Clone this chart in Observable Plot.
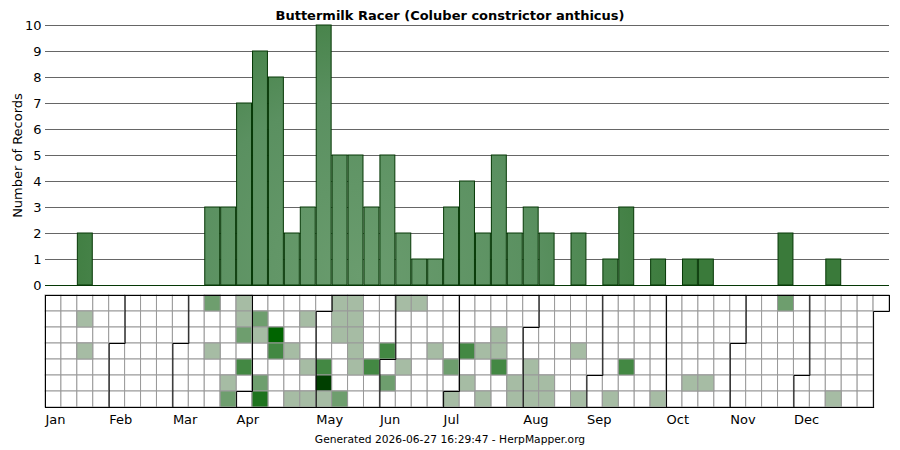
<!DOCTYPE html>
<html><head><meta charset="utf-8">
<script src="https://cdn.jsdelivr.net/npm/d3@7"></script>
<script src="https://cdn.jsdelivr.net/npm/@observablehq/plot@0.6"></script>
<style>
html,body{margin:0;padding:0;background:#fff;}
#wrap{position:relative;width:900px;height:450px;overflow:hidden;font-family:"DejaVu Sans",sans-serif;color:#000;}
#title{position:absolute;left:0;top:7.5px;width:900px;text-align:center;font-weight:bold;font-size:13px;line-height:15px;}
#footer{position:absolute;left:0;top:433px;width:900px;text-align:center;font-size:10.7px;line-height:13px;}
#bars{position:absolute;left:0;top:0;}
#cal{position:absolute;left:0;top:290px;}
</style></head><body>
<div id="wrap"><div id="title"></div><div id="bars"></div><div id="cal"></div><div id="footer"></div></div>
<script>
const titleText = "Buttermilk Racer (Coluber constrictor anthicus)";
const yLabel = "Number of Records";
const footerText = "Generated 2026-06-27 16:29:47 - HerpMapper.org";
const monthNames = ["Jan","Feb","Mar","Apr","May","Jun","Jul","Aug","Sep","Oct","Nov","Dec"];
const monthStartDays = [0,31,59,90,120,151,181,212,243,273,304,334];
const daysInYear = 365;
const yTicks = [0,1,2,3,4,5,6,7,8,9,10];
// weekly record counts (53 week columns)
const weeklyCounts = [0,0,2,0,0,0,0,0,0,0,3,3,7,9,8,2,3,10,5,5,3,5,2,1,1,3,4,2,5,2,3,2,0,2,0,1,3,0,1,0,1,1,0,0,0,0,2,0,0,1,0,0,0];
// daily cells: [week column, row within week, count]
const dayCells = [
  [2,1,1],[2,3,1],
  [10,0,2],[10,3,1],
  [11,5,1],[11,6,2],
  [12,0,1],[12,1,1],[12,2,2],[12,4,3],
  [13,1,2],[13,2,1],[13,5,2],[13,6,4],
  [14,2,5],[14,3,3],
  [15,3,1],[15,6,1],
  [16,1,1],[16,4,1],[16,6,1],
  [17,4,3],[17,5,6],[17,6,1],
  [18,0,1],[18,1,1],[18,2,1],[18,6,2],
  [19,0,1],[19,1,1],[19,2,1],[19,3,1],[19,4,1],
  [20,4,3],
  [21,3,3],[21,5,2],
  [22,0,1],[22,4,1],
  [23,0,1],
  [24,3,1],
  [25,4,2],[25,6,1],
  [26,3,3],[26,5,1],
  [27,3,1],[27,6,1],
  [28,2,1],[28,3,1],[28,4,3],
  [29,5,1],[29,6,1],
  [30,4,1],[30,5,1],[30,6,1],
  [31,5,1],[31,6,1],
  [33,3,1],[33,6,1],
  [35,6,1],
  [36,4,3],
  [38,6,1],
  [40,5,1],
  [41,5,1],
  [46,0,2],
  [49,6,1]
];
const countLevels = [1,2,3,4,5,6];
const levelColors = ["#a6bca4","#6e9e6e","#438843","#1e731e","#006400","#003f00"];

document.getElementById("title").textContent = titleText;
document.getElementById("footer").textContent = footerText;

const nWeeks = weeklyCounts.length;
const bars = weeklyCounts.map((v,i)=>({week:i, count:v})).filter(d=>d.count>0);

const gradDefs = () => {
  const defs = d3.create("svg:defs");
  const g = defs.append("radialGradient").attr("id","barGrad").attr("gradientUnits","userSpaceOnUse")
    .attr("cx",360).attr("cy",275).attr("r",320);
  g.append("stop").attr("offset","0%").attr("stop-color","#6a9c6e");
  g.append("stop").attr("offset","55%").attr("stop-color","#5a9060");
  g.append("stop").attr("offset","100%").attr("stop-color","#3a7a3a");
  return defs.node();
};

const p1 = Plot.plot({
  width: 900, height: 300,
  marginTop: 25, marginBottom: 15, marginLeft: 45, marginRight: 11,
  style: {fontFamily: "DejaVu Sans", fontSize: "13px", color: "#000", background: "transparent", overflow: "visible"},
  x: {domain: [0, nWeeks], axis: null},
  y: {domain: [0, 10], ticks: yTicks, tickSize: 0, tickPadding: 4, label: null},
  marks: [
    gradDefs,
    Plot.ruleY(yTicks.filter(v=>v>0), {stroke: "#666", strokeWidth: 1, strokeOpacity: 1}),
    Plot.rectY(bars, {x1: "week", x2: d=>d.week+1, y1: 0, y2: "count", insetLeft: 0.5, insetRight: 0.5,
      fill: "url(#barGrad)", stroke: "#063806", strokeWidth: 1}),
    Plot.ruleY([0], {stroke: "#063806", strokeWidth: 1}),
    Plot.axisY({ticks: yTicks, tickSize: 0, tickPadding: 4, label: null, fontSize: 13}),
    Plot.text([yLabel], {frameAnchor: "left", textAnchor: "middle", lineAnchor: "middle", rotate: -90, dx: -28, fontSize: 13, fill: "#000"})
  ]
});
document.getElementById("bars").appendChild(p1);

const allDays = d3.range(daysInYear).map(d=>({week: Math.floor(d/7), wd: d%7}));
const cells = dayCells.map(([w,r,c])=>({week:w, wd:r, count:c}));

const lines = [];
monthStartDays.forEach((d,m)=>{
  const c = Math.floor(d/7), r = d%7;
  const pts = r===0 ? [[c,7],[c,0]] : [[c,7],[c,r],[c+1,r],[c+1,0]];
  pts.forEach(([x,y])=>lines.push({id:"m"+m, x, y}));
});
const last = daysInYear-1, lc = Math.floor(last/7), lr = last%7;
[[0,0],[lc+1,0]].forEach(([x,y])=>lines.push({id:"top",x,y}));
[[0,7],[lc,7]].forEach(([x,y])=>lines.push({id:"bottom",x,y}));
[[lc+1,0],[lc+1,lr+1],[lc,lr+1],[lc,7]].forEach(([x,y])=>lines.push({id:"right",x,y}));

const p2 = Plot.plot({
  width: 900, height: 160,
  marginTop: 5, marginBottom: 43, marginLeft: 45, marginRight: 11,
  style: {fontFamily: "DejaVu Sans", fontSize: "13px", color: "#000", background: "transparent"},
  x: {domain: [0, nWeeks], axis: null},
  y: {domain: [0, 7], reverse: true, axis: null},
  color: {type: "ordinal", domain: countLevels, range: levelColors},
  marks: [
    Plot.rect(allDays, {x1: "week", x2: d=>d.week+1, y1: "wd", y2: d=>d.wd+1, fill: "#fff", stroke: "#999", strokeWidth: 1}),
    Plot.rect(cells, {x1: "week", x2: d=>d.week+1, y1: "wd", y2: d=>d.wd+1, fill: "count", stroke: "#999", strokeWidth: 1}),
    Plot.line(lines, {x: "x", y: "y", z: "id", stroke: "#000", strokeWidth: 1, strokeLinejoin: "miter", strokeLinecap: "square"}),
    Plot.text(monthNames, {x: (d,i)=>Math.floor(monthStartDays[i]/7), y: 7, dy: 12, textAnchor: "start", fontSize: 13, fill: "#000"})
  ]
});
document.getElementById("cal").appendChild(p2);
</script>
</body></html>
